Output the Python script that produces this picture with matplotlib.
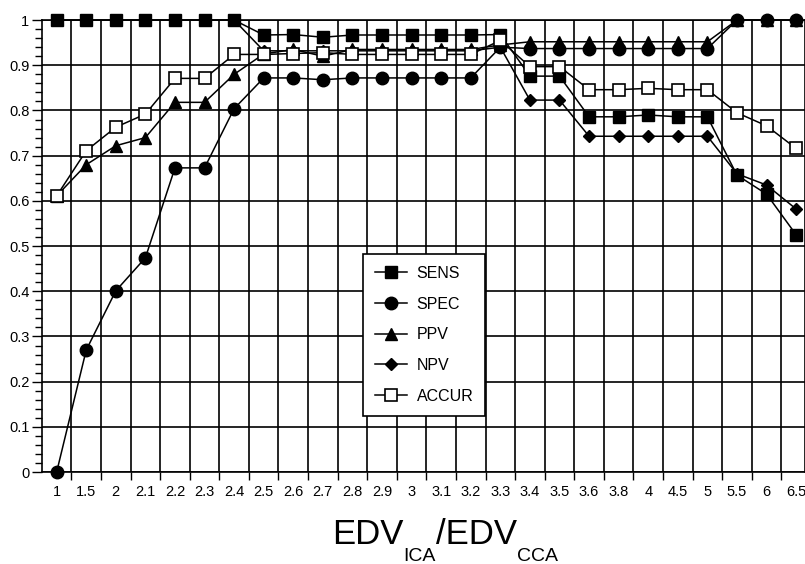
import numpy as np
import matplotlib
matplotlib.use("Agg")
import matplotlib.pyplot as plt
from matplotlib.ticker import MultipleLocator, FixedLocator

plt.rcParams['font.family'] = ['Liberation Sans', 'DejaVu Sans']

# EDV ICA / EDV CCA thresholds (categorical axis)
cats = ['1', '1.5', '2', '2.1', '2.2', '2.3', '2.4', '2.5', '2.6', '2.7', '2.8', '2.9', '3',
        '3.1', '3.2', '3.3', '3.4', '3.5', '3.6', '3.8', '4', '4.5', '5', '5.5', '6', '6.5']

sens = [1, 1, 1, 1, 1, 1, 1, 0.967, 0.968, 0.962, 0.967, 0.967, 0.967, 0.967, 0.967,
        0.968, 0.876, 0.876, 0.786, 0.786, 0.79, 0.786, 0.786, 0.657, 0.615, 0.525]
spec = [0.0, 0.270, 0.401, 0.474, 0.673, 0.673, 0.804, 0.872, 0.872, 0.868, 0.872, 0.872, 0.872,
        0.872, 0.872, 0.940, 0.937, 0.937, 0.937, 0.937, 0.937, 0.937, 0.937, 1, 1, 1]
ppv = [0.611, 0.680, 0.722, 0.740, 0.818, 0.818, 0.880, 0.925, 0.935, 0.920, 0.935, 0.935, 0.935,
       0.935, 0.935, 0.945, 0.952, 0.952, 0.952, 0.952, 0.952, 0.952, 0.952, 1, 1, 1]
npv = [1, 1, 1, 1, 1, 1, 1, 0.932, 0.932, 0.932, 0.932, 0.932, 0.932, 0.932, 0.932,
       0.94, 0.823, 0.823, 0.743, 0.743, 0.743, 0.743, 0.743, 0.66, 0.635, 0.582]
accur = [0.611, 0.711, 0.763, 0.792, 0.871, 0.871, 0.924, 0.924, 0.926, 0.928, 0.924, 0.924, 0.924,
         0.924, 0.924, 0.955, 0.897, 0.897, 0.846, 0.846, 0.849, 0.846, 0.846, 0.795, 0.766, 0.716]

x = np.arange(len(cats))

fig = plt.figure(figsize=(8.05, 5.64), dpi=100)
ax = fig.add_axes([0.052, 0.163, 0.948, 0.8014])

lw = 1.1
ms = 9
ax.plot(x, sens, '-', color='black', lw=lw, marker='s', ms=ms, mfc='black', mec='black', label='SENS', clip_on=False, zorder=3)
ax.plot(x, spec, '-', color='black', lw=lw, marker='o', ms=ms, mfc='black', mec='black', label='SPEC', clip_on=False, zorder=3)
ax.plot(x, ppv, '-', color='black', lw=lw, marker='^', ms=ms, mfc='black', mec='black', label='PPV', clip_on=False, zorder=3)
ax.plot(x, npv, '-', color='black', lw=lw, marker='D', ms=6.5, mfc='black', mec='black', label='NPV', clip_on=False, zorder=3)
ax.plot(x, accur, '-', color='black', lw=lw, marker='s', ms=ms, mfc='white', mec='black', mew=1.2, label='ACCUR', clip_on=False, zorder=3)

ax.set_xlim(-0.5, 25.3)
ax.set_ylim(0, 1)

ax.set_xticks(x)
ax.set_xticklabels(cats)
ax.xaxis.set_minor_locator(FixedLocator(np.arange(0.5, 25, 1)))
ax.tick_params(axis='x', which='major', length=0, labelsize=10.5, pad=9)
ax.tick_params(axis='x', which='minor', length=6, width=1, color='black')

ax.yaxis.set_minor_locator(MultipleLocator(0.02))
ax.set_yticks(np.arange(0, 1.01, 0.1))
ax.set_yticklabels(['0'] + ['%.1f' % v for v in np.arange(0.1, 0.95, 0.1)] + ['1'])
ax.tick_params(axis='y', which='major', length=7, width=1, labelsize=10.5, pad=2)
ax.tick_params(axis='y', which='minor', length=5, width=1)

ax.grid(True, which='major', axis='y', color='black', lw=1.2)
ax.grid(True, which='minor', axis='x', color='black', lw=1.2)
ax.set_axisbelow(True)
for s in ax.spines.values():
    s.set_linewidth(1.2)

leg = ax.legend(loc='upper left', bbox_to_anchor=(0.451, 0.5496), bbox_transform=fig.transFigure,
                borderaxespad=0, fontsize=11.5, frameon=True, fancybox=False, edgecolor='black',
                framealpha=1, labelspacing=0.98, handlelength=2.0, handletextpad=0.6, borderpad=0.75)
leg.get_frame().set_linewidth(1.2)

# x label built from pieces so the subscripts sit low and small, as in the original
fig.canvas.draw()
r = fig.canvas.get_renderer()
W = fig.bbox.width
pieces = [('EDV', 25, 0.0), ('ICA', 14, -0.03), ('/EDV', 25, 0.0), ('CCA', 14, -0.03)]
base_y = 0.035
texts = []
cx = 0.0
for s, fs, dy in pieces:
    t = fig.text(cx, base_y + dy, s, fontsize=fs, va='baseline', ha='left')
    bb = t.get_window_extent(r)
    texts.append(t)
    cx += bb.width / W
shift = 445 / 805 - cx / 2
for t in texts:
    px, py = t.get_position()
    t.set_position((px + shift, py))

fig.savefig('out.png', dpi=100)
